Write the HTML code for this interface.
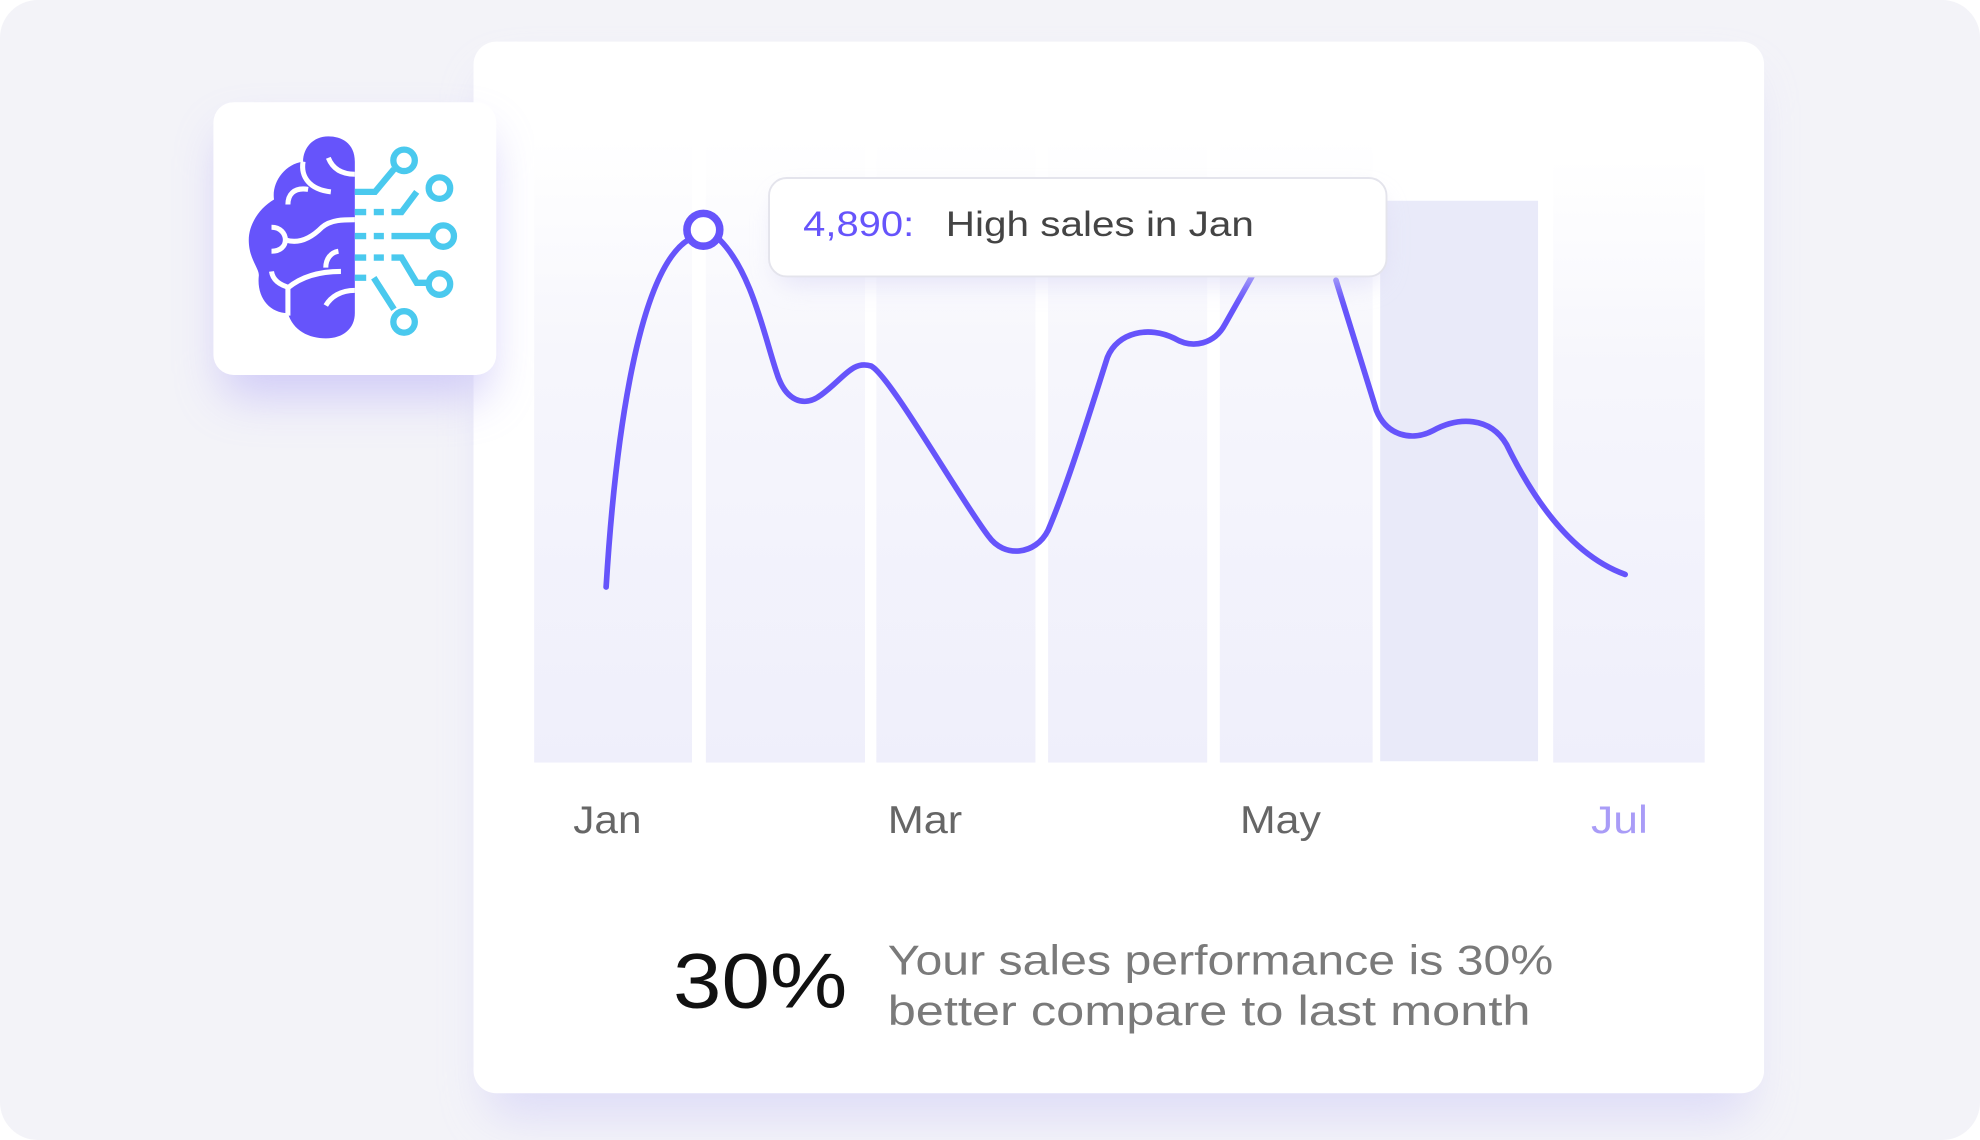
<!DOCTYPE html>
<html><head><meta charset="utf-8"><style>
html,body{margin:0;padding:0;background:#fff;}
svg{display:block;}
text{font-family:"Liberation Sans",sans-serif;}
</style></head><body>
<svg width="1980" height="1140" viewBox="0 0 1568 903" preserveAspectRatio="none" xmlns="http://www.w3.org/2000/svg">
<defs>
<linearGradient id="bg" x1="0" y1="0" x2="0" y2="1"><stop offset="0" stop-color="#ffffff"/><stop offset="0.35" stop-color="#f6f6fc"/><stop offset="1" stop-color="#efeffb"/></linearGradient>
<filter id="sh" x="-20%" y="-20%" width="140%" height="140%"><feGaussianBlur stdDeviation="18"/></filter>
<filter id="sh2" x="-10%" y="-50%" width="120%" height="200%"><feGaussianBlur stdDeviation="10"/></filter>
</defs>
<rect x="0" y="0" width="1568" height="903" rx="30" fill="#f3f3f8"/>
<rect x="385" y="60" width="1002" height="825" rx="20" fill="#d9d7f7" filter="url(#sh)" opacity="0.8"/>
<rect x="375" y="33" width="1022" height="833" rx="18" fill="#ffffff"/>
<rect x="175" y="105" width="212" height="210" rx="16" fill="#c9c3f7" filter="url(#sh)" opacity="0.8"/>
<rect x="169" y="81" width="224" height="216" rx="16" fill="#ffffff"/>
<rect x="423" y="110" width="125" height="494" fill="url(#bg)"/>
<rect x="559" y="110" width="126" height="494" fill="url(#bg)"/>
<rect x="694" y="110" width="126" height="494" fill="url(#bg)"/>
<rect x="830" y="110" width="126" height="494" fill="url(#bg)"/>
<rect x="966" y="110" width="121" height="494" fill="url(#bg)"/>
<rect x="1093" y="159" width="125" height="444" fill="#e9eaf9"/>
<rect x="1230" y="125" width="120" height="479" fill="url(#bg)"/>
<path d="M480,465 C487,350 505,215 545,190 M570,190 C595,215 605,265 615,295 C622,318 637,323 650,313 C668,300 675,285 690,290 C705,298 760,395 783,425 C795,442 820,440 830,420 C845,385 862,330 877,283 C885,263 910,258 930,268 C945,277 962,272 970,257 L992,218 M1058,222 L1090,325 C1098,345 1118,350 1135,341 C1155,330 1180,330 1193,352 C1215,397 1245,440 1287,455" fill="none" stroke="#6654fb" stroke-width="4.5" stroke-linecap="round"/>
<circle cx="557" cy="182" r="13" fill="#fff" stroke="#6654fb" stroke-width="6"/>
<rect x="615" y="155" width="480" height="70" rx="14" fill="#dcdaf6" filter="url(#sh2)" opacity="0.7"/>
<rect x="609" y="141" width="489" height="78" rx="14" fill="#fff" stroke="#e4e4ec" stroke-width="1.5"/>
<text x="636" y="187" font-size="28" fill="#6654fb" textLength="88" lengthAdjust="spacingAndGlyphs">4,890:</text>
<text x="749" y="187" font-size="28" fill="#444" textLength="244" lengthAdjust="spacingAndGlyphs">High sales in Jan</text>
<text x="454" y="660" font-size="31" fill="#666" textLength="54" lengthAdjust="spacingAndGlyphs">Jan</text>
<text x="703" y="660" font-size="31" fill="#666" textLength="59" lengthAdjust="spacingAndGlyphs">Mar</text>
<text x="982" y="660" font-size="31" fill="#666" textLength="64" lengthAdjust="spacingAndGlyphs">May</text>
<text x="1260" y="660" font-size="31" fill="#a99cf7" textLength="45" lengthAdjust="spacingAndGlyphs">Jul</text>
<text x="533" y="798" font-size="62" fill="#111" textLength="138" lengthAdjust="spacingAndGlyphs">30%</text>
<text x="703" y="772" font-size="33" fill="#7a7a7a" textLength="527" lengthAdjust="spacingAndGlyphs">Your sales performance is 30%</text>
<text x="703" y="812" font-size="33" fill="#7a7a7a" textLength="509" lengthAdjust="spacingAndGlyphs">better compare to last month</text>
<g>
<path d="M281,248 L281,128 C281,113 270,108 260,108 C248,108 240,117 240,128 C225,130 215,145 217,158 C205,165 197,178 197,190 C197,205 205,212 205,218 C203,235 213,248 228,248 C232,262 245,268 258,268 C272,268 281,260 281,248 Z" fill="#6654fb"/>
<g fill="none" stroke="#fff" stroke-width="4">
<path d="M260,125 C264,135 272,138 281,138"/>
<path d="M240,128 C238,140 245,150 262,152"/>
<path d="M244,150 C232,148 228,155 228,162"/>
<path d="M215,180 C222,180 226,185 226,190 C226,195 222,199 215,199"/>
<path d="M226,190 C235,193 245,190 255,180 C262,174 272,174 281,174"/>
<path d="M215,215 C216,222 222,226 230,228"/>
<path d="M228,228 C240,218 255,215 270,215"/>
<path d="M258,212 C258,205 262,200 268,199"/>
<path d="M228,228 C228,238 228,245 228,250"/>
<path d="M258,242 C262,235 270,230 281,230"/>
</g>
<g fill="none" stroke="#4ac9ee" stroke-width="5">
<path d="M281,152 L297,152 L312,134"/><circle cx="320" cy="127" r="8.5"/>
<path d="M281,168 L290,168 M296,168 L304,168 M310,168 L318,168 L330,152"/><circle cx="348" cy="149" r="8.5"/>
<path d="M281,187 L290,187 M296,187 L304,187 M310,187 L342,187"/><circle cx="351" cy="187" r="8.5"/>
<path d="M281,204 L290,204 M296,204 L304,204 M310,204 L318,204 L330,224 L340,224"/><circle cx="348" cy="225" r="8.5"/>
<path d="M281,220 L290,220 M296,220 L312,245"/><circle cx="320" cy="255" r="8.5"/>
</g>
</g>
</svg>
</body></html>
